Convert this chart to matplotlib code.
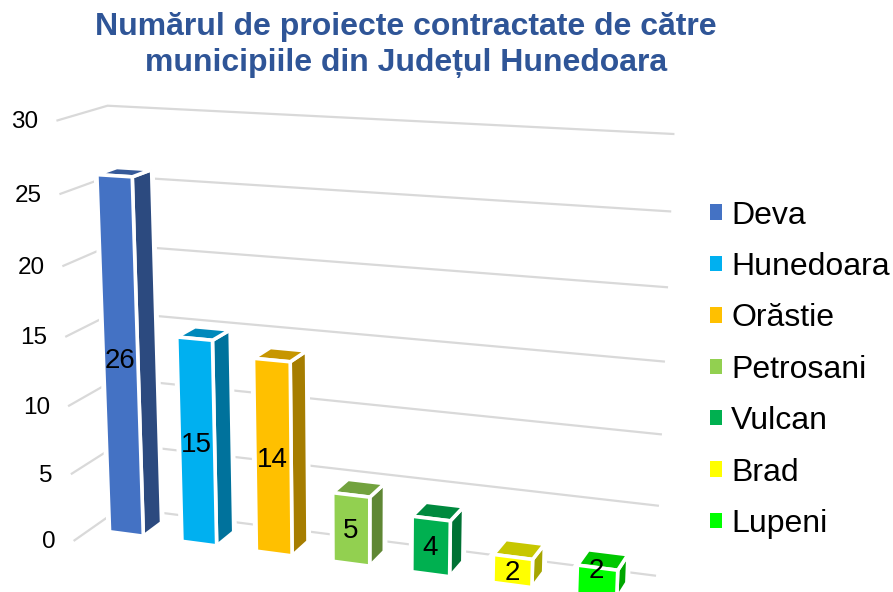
import numpy as np
import matplotlib
matplotlib.use('Agg')
import matplotlib.pyplot as plt
from matplotlib.patches import Polygon, Patch

plt.rcParams['font.family'] = ['Liberation Sans', 'DejaVu Sans']

# date
orase = ['Deva', 'Hunedoara', 'Orăstie', 'Petrosani', 'Vulcan', 'Brad', 'Lupeni']
proiecte = [26, 15, 14, 5, 4, 2, 2]
culori = ['#4472C4', '#00B0F0', '#FFC000', '#92D050', '#00B050', '#FFFF00', '#00FF00']
valori_axa = [0, 5, 10, 15, 20, 25, 30]
titlu = 'Numărul de proiecte contractate de către\nmunicipiile din Județul Hunedoara'

# marginile barei in interiorul unei categorii si in adancime
BAR_X0, BAR_X1 = 0.27, 0.74
BAR_Y0, BAR_Y1 = 0.33, 0.74

# puncte de calibrare: (categorie, adancime, valoare) -> pixel in imagine
calib = [
    ((0, 1, 30), (108, 105)), ((0, 1, 0), (121.6, 508)),
    ((7, 1, 30), (673, 134)), ((7, 1, 0), (655, 575)),
    ((0, 0, 30), (58, 119.5)), ((0, 0, 0), (75.7, 539.3)),
    ((0 + BAR_X0, BAR_Y0, 0), (108, 532)), ((1 + BAR_X0, BAR_Y0, 0), (181.7, 541)),
    ((2 + BAR_X0, BAR_Y0, 0), (256, 551)), ((3 + BAR_X0, BAR_Y0, 0), (333, 561.7)),
    ((4 + BAR_X0, BAR_Y0, 0), (412, 571.7)), ((5 + BAR_X0, BAR_Y0, 0), (493, 582.7)),
    ((6 + BAR_X0, BAR_Y0, 0), (577, 593.5)),
    ((0 + BAR_X0, BAR_Y0, 26), (96.3, 175.7)), ((1 + BAR_X0, BAR_Y0, 15), (176.3, 338.3)),
]


# matricea camerei, din punctele de calibrare
def fit_camera(puncte):
    A, b = [], []
    for (X, Y, Z), (u, v) in puncte:
        A.append([X, Y, Z, 1, 0, 0, 0, 0, -u * X, -u * Y, -u * Z])
        A.append([0, 0, 0, 0, X, Y, Z, 1, -v * X, -v * Y, -v * Z])
        b += [u, v]
    p = np.linalg.lstsq(np.array(A, float), np.array(b, float), rcond=None)[0]
    return np.append(p, 1).reshape(3, 4)


cam = fit_camera(calib)


def project(x, y, z):
    r = cam @ np.array([x, y, z, 1.0])
    return r[0] / r[2], r[1] / r[2]


def shade(culoare, f):
    return tuple(c * f for c in matplotlib.colors.to_rgb(culoare))


fig = plt.figure(figsize=(8.93, 5.92), dpi=100)
ax = fig.add_axes([0, 0, 1, 1])
ax.set_xlim(0, 893)
ax.set_ylim(592, 0)
ax.axis('off')

# grila pe peretii din spate si din stanga
for v in valori_axa:
    pts = [project(0, 0, v), project(0, 1, v), project(7, 1, v)]
    ax.plot([p[0] for p in pts], [p[1] for p in pts], color='#D9D9D9', lw=1.6, zorder=1,
            solid_joinstyle='miter')
    x, y = pts[0]
    ax.text(x - 19, y + 2, str(v), ha='right', va='center', fontsize=17.5, color='black')

# barele
for i, (val, cul) in enumerate(zip(proiecte, culori)):
    x0, x1 = i + BAR_X0, i + BAR_X1
    fata = [project(x0, BAR_Y0, 0), project(x1, BAR_Y0, 0), project(x1, BAR_Y0, val), project(x0, BAR_Y0, val)]
    lateral = [project(x1, BAR_Y0, 0), project(x1, BAR_Y1, 0), project(x1, BAR_Y1, val), project(x1, BAR_Y0, val)]
    sus = [project(x0, BAR_Y0, val), project(x1, BAR_Y0, val), project(x1, BAR_Y1, val), project(x0, BAR_Y1, val)]
    z = 2 + i
    for fat in (fata, lateral, sus):
        ax.add_patch(Polygon(fat, closed=True, fc='white', ec='white', lw=4.5, zorder=z))
    ax.add_patch(Polygon(lateral, closed=True, fc=shade(cul, 0.65), ec='white', lw=2.6, zorder=z + 0.1))
    ax.add_patch(Polygon(sus, closed=True, fc=shade(cul, 0.78), ec='white', lw=2.6, zorder=z + 0.1))
    ax.add_patch(Polygon(fata, closed=True, fc=cul, ec='white', lw=2.6, zorder=z + 0.2))
    lx, ly = project(i + 0.5, BAR_Y0, val / 2)
    ly += 2
    if i == 6:
        ly -= 13
    ax.text(lx, ly, str(val), ha='center', va='center', fontsize=20, color='black', zorder=20)

ax.text(406, 45, titlu, ha='center', va='center', fontsize=23, fontweight='bold',
        color='#2F5597', linespacing=1.26)

handles = [Patch(fc=c, ec='none', label=n) for n, c in zip(orase, culori)]
fig.legend(handles=handles, loc='upper left', bbox_to_anchor=(710 / 893, 1 - 200.5 / 592), frameon=False,
           fontsize=23, handlelength=0.36, handleheight=0.36, handletextpad=0.3, labelspacing=0.67,
           borderpad=0, borderaxespad=0)

fig.savefig('out.png', dpi=100)
